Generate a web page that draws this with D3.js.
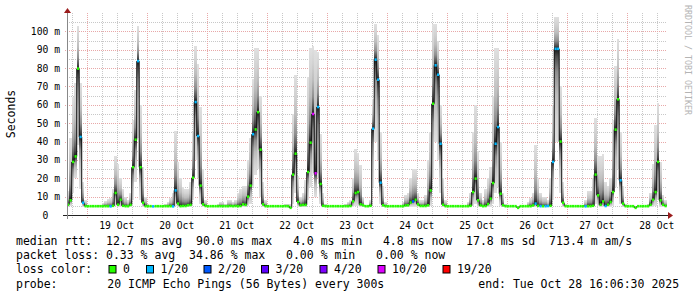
<!DOCTYPE html>
<html>
<head>
<meta charset="utf-8">
<script src="https://cdnjs.cloudflare.com/ajax/libs/d3/7.8.5/d3.min.js"></script>
<style>
    html, body { margin: 0; padding: 0; background: #ffffff; }
    svg { display: block; }
    text { font-family: 'DejaVu Sans Mono', monospace; white-space: pre; }
</style>
</head>
<body>
<svg id="chart" width="697" height="297"></svg>
<script>
/**
 * Hourly smokeping samples, 18 Oct 16:00 .. 28 Oct 16:00 (UTC), 12 per row.
 * Values in milliseconds.
 */
const medianRtt = [
    5.6, 8.0, 28.9, 31.9, 79.7, 42.5, 6.7, 4.8, 4.8, 4.8, 4.8, 4.8,
    4.8, 4.8, 4.8, 4.8, 4.8, 4.7, 5.0, 12.0, 5.6, 8.3, 5.0, 4.8,
    4.8, 5.5, 26.0, 41.0, 83.8, 26.0, 6.7, 4.8, 4.8, 4.8, 4.7, 4.8,
    4.8, 4.8, 4.8, 4.8, 4.8, 4.8, 4.7, 13.4, 6.2, 4.8, 4.9, 4.9,
    5.3, 5.5, 20.3, 61.5, 43.0, 16.0, 5.8, 4.9, 4.8, 4.8, 4.8, 4.8,
    4.8, 4.8, 4.8, 4.8, 4.8, 4.9, 4.8, 4.9, 4.8, 4.9, 5.8, 5.5,
    10.0, 16.0, 44.0, 46.6, 56.0, 35.6, 5.8, 4.8, 4.8, 4.8, 4.8, 4.8,
    4.8, 4.8, 4.8, 4.8, 4.8, 3.9, 22.0, 33.4, 7.1, 5.3, 5.5, 5.5,
    23.4, 39.4, 55.0, 22.7, 58.8, 16.9, 5.0, 4.8, 4.8, 4.8, 4.8, 4.8,
    4.8, 4.8, 4.8, 4.8, 4.8, 4.9, 7.4, 12.0, 12.5, 5.8, 5.3, 4.8,
    4.8, 5.0, 47.0, 84.6, 73.7, 17.6, 5.3, 4.8, 4.8, 4.8, 4.8, 4.8,
    4.8, 4.8, 4.8, 5.2, 5.3, 6.8, 7.4, 8.3, 5.8, 4.9, 4.9, 4.9,
    5.3, 13.4, 60.6, 81.5, 76.4, 38.8, 5.6, 4.8, 4.8, 4.8, 4.8, 4.8,
    4.8, 4.8, 4.8, 4.8, 4.8, 5.0, 12.5, 19.8, 8.0, 5.2, 4.8, 4.9,
    6.0, 8.9, 17.4, 38.8, 47.9, 11.6, 5.3, 4.8, 4.8, 4.8, 4.8, 4.8,
    3.9, 4.8, 4.8, 4.8, 4.8, 4.8, 5.2, 6.2, 5.0, 4.8, 4.8, 4.8,
    4.9, 5.0, 28.9, 90.5, 90.5, 40.0, 6.7, 4.8, 4.8, 4.8, 4.8, 4.8,
    4.8, 4.8, 4.8, 4.7, 4.8, 4.8, 5.0, 22.0, 10.7, 5.6, 7.4, 4.9,
    5.6, 7.1, 12.5, 46.5, 63.0, 18.9, 6.2, 4.8, 4.8, 4.8, 4.8, 3.9,
    4.8, 4.8, 4.8, 4.8, 4.8, 5.6, 8.3, 12.5, 28.9, 8.0, 5.6, 4.9
];

// slowest ping of each hour (top of the smoke)
const smokeMax = [
    13, 42, 64, 72, 103, 72, 18, 8, 5.5, 5, 5, 5,
    5, 5.5, 6.5, 7.5, 8.5, 9, 14, 32, 28, 20, 14, 10,
    8, 12, 52, 68, 103, 60, 26, 10, 6, 5, 5, 5,
    5, 5, 5.5, 6, 7, 9, 12, 46, 29, 20, 15, 14,
    14, 18, 45, 92, 82, 59, 25, 8, 5, 5, 5, 5,
    6, 7, 7, 6, 8, 8, 7, 8, 12, 14, 16, 16,
    30, 42, 74, 91, 91, 65, 18, 8, 5, 5, 5, 5,
    5, 5, 5.5, 6, 6, 6, 55, 76, 21, 10, 12, 19,
    75, 91, 92, 90, 89, 44, 12, 6, 5, 5, 5, 5,
    5, 5, 5.5, 6, 7, 8, 20, 36, 34, 27, 10, 5,
    5, 8, 63, 104, 98, 45, 16, 7, 5, 5, 5, 5,
    5, 5, 7, 11, 12, 20, 25, 25, 12, 8, 8, 11,
    30, 45, 104, 104, 95, 60, 20, 8, 5, 5, 5, 5,
    5, 5, 5, 5, 7, 12, 45, 60, 35, 12, 8, 14,
    20, 26, 65, 91, 91, 40, 12, 6, 5, 5, 5, 5,
    5, 5, 5, 5, 7, 9, 12, 38, 20, 12, 10, 10,
    8, 20, 60, 108, 108, 70, 18, 6, 5, 5, 5, 5,
    5, 5, 5, 8, 13, 13, 20, 53, 32, 32, 33, 18,
    16, 20, 52, 81, 96, 45, 16, 6, 5, 5, 5, 5,
    5, 5, 5, 5, 6, 12, 28, 49, 61, 29, 11, 8
];

// fastest ping of each hour (bottom of the smoke)
const smokeMin = [
    4.5, 5, 12, 20, 38, 14, 4.6, 4.5, 4.5, 4.5, 4.5, 4.5,
    4.5, 4.5, 4.5, 4.5, 4.5, 4.5, 4.5, 5, 4.5, 4.6, 4.5, 4.5,
    4.5, 4.6, 8, 18, 42, 8, 4.6, 4.5, 4.5, 4.5, 4.5, 4.5,
    4.5, 4.5, 4.5, 4.5, 4.5, 4.5, 4.5, 5, 4.6, 4.5, 4.5, 4.5,
    4.5, 4.6, 8, 30, 20, 6, 4.6, 4.5, 4.5, 4.5, 4.5, 4.5,
    4.5, 4.5, 4.5, 4.5, 4.5, 4.5, 4.5, 4.5, 4.5, 4.5, 4.6, 4.6,
    5, 6, 15, 22, 25, 10, 4.6, 4.5, 4.5, 4.5, 4.5, 4.5,
    4.5, 4.5, 4.5, 4.5, 4.5, 3.8, 6, 12, 4.6, 4.5, 4.5, 4.5,
    8, 15, 22, 10, 20, 6, 4.5, 4.5, 4.5, 4.5, 4.5, 4.5,
    4.5, 4.5, 4.5, 4.5, 4.5, 4.5, 4.6, 5, 5, 4.6, 4.5, 4.5,
    4.5, 4.5, 15, 40, 30, 6, 4.5, 4.5, 4.5, 4.5, 4.5, 4.5,
    4.5, 4.5, 4.5, 4.5, 4.5, 4.6, 4.6, 4.6, 4.5, 4.5, 4.5, 4.5,
    4.5, 5, 20, 40, 30, 12, 4.5, 4.5, 4.5, 4.5, 4.5, 4.5,
    4.5, 4.5, 4.5, 4.5, 4.5, 4.5, 5, 6, 4.6, 4.5, 4.5, 4.5,
    4.5, 4.6, 6, 12, 15, 5, 4.5, 4.5, 4.5, 4.5, 4.5, 4.5,
    3.8, 4.5, 4.5, 4.5, 4.5, 4.5, 4.5, 4.5, 4.5, 4.5, 4.5, 4.5,
    4.5, 4.5, 8, 40, 40, 12, 4.6, 4.5, 4.5, 4.5, 4.5, 4.5,
    4.5, 4.5, 4.5, 4.5, 4.5, 4.5, 4.5, 6, 5, 4.5, 4.6, 4.5,
    4.5, 4.6, 5, 15, 25, 6, 4.5, 4.5, 4.5, 4.5, 4.5, 3.8,
    4.5, 4.5, 4.5, 4.5, 4.5, 4.5, 4.6, 5, 8, 4.6, 4.5, 4.5
];

// lost pings out of 20 for each hour
const lossCount = [
    0, 0, 0, 0, 0, 1, 1, 0, 0, 0, 0, 0,
    0, 0, 0, 0, 0, 1, 0, 0, 0, 0, 0, 0,
    0, 0, 0, 0, 1, 0, 0, 0, 0, 0, 1, 0,
    0, 0, 0, 0, 0, 0, 1, 1, 0, 0, 0, 0,
    0, 0, 0, 1, 1, 0, 0, 0, 0, 0, 0, 0,
    0, 0, 0, 0, 0, 0, 0, 0, 0, 0, 0, 0,
    0, 0, 1, 0, 0, 0, 0, 0, 0, 0, 0, 0,
    0, 0, 0, 0, 0, 0, 0, 0, 0, 0, 0, 0,
    0, 0, 10, 10, 1, 0, 0, 0, 0, 0, 0, 0,
    0, 0, 0, 0, 0, 0, 0, 0, 0, 0, 0, 0,
    0, 0, 1, 1, 1, 1, 0, 0, 0, 0, 0, 0,
    0, 0, 0, 0, 0, 0, 2, 0, 0, 0, 0, 0,
    0, 0, 0, 1, 1, 1, 0, 0, 0, 0, 0, 0,
    0, 0, 0, 0, 0, 0, 0, 0, 0, 0, 0, 0,
    0, 0, 0, 1, 1, 0, 0, 0, 0, 0, 0, 0,
    0, 0, 0, 0, 0, 0, 0, 1, 0, 1, 0, 1,
    1, 0, 1, 1, 1, 0, 0, 0, 0, 0, 0, 0,
    0, 0, 0, 1, 0, 0, 0, 0, 0, 0, 0, 1,
    0, 0, 0, 0, 0, 1, 0, 0, 0, 0, 0, 0,
    0, 0, 0, 0, 0, 0, 0, 0, 0, 0, 0, 0
];

/** Loss colour legend */
const lossSteps = [0, 1, 2, 3, 4, 10, 19];
const lossLabels = ['0', '1/20', '2/20', '3/20', '4/20', '10/20', '19/20'];
const lossColors = ['#26ff00', '#00b8ff', '#0059ff', '#5e00ff', '#7e00ff', '#dd00ff', '#ff0000'];

/** Y axis ticks (ms) */
const yTicks = [0, 10, 20, 30, 40, 50, 60, 70, 80, 90, 100];

/** Legend lines */
const rttLine = 'median rtt:  12.7 ms avg  90.0 ms max   4.0 ms min   4.8 ms now  17.8 ms sd  713.4 m am/s';
const lossLine = 'packet loss: 0.33 % avg  34.86 % max   0.00 % min   0.00 % now';
const probeLabel = 'probe:';
const probeText = '20 ICMP Echo Pings (56 Bytes) every 300s';
const endText = 'end: Tue Oct 28 16:06:30 2025';

const hour = 3600 * 1000;
const endTime = new Date(Date.UTC(2025, 9, 28, 16, 6, 30));
const startTime = new Date(endTime.getTime() - 240 * hour);
const firstBin = new Date(Date.UTC(2025, 9, 18, 16, 0, 0));

const plot = { left: 67, right: 667, top: 13, bottom: 215 };

function lossColor(n) {
    let c = lossColors[0];
    lossSteps.forEach((s, i) => { if (n >= s) c = lossColors[i]; });
    return c;
}

function drawChart(svg) {
    const x = d3.scaleUtc().domain([startTime, endTime]).range([plot.left, plot.right]);
    const y = d3.scaleLinear().domain([0, 110]).range([plot.bottom, plot.top]);

    const defs = svg.append('defs');
    defs.append('clipPath').attr('id', 'plot-clip')
        .append('rect')
        .attr('x', plot.left).attr('y', plot.top)
        .attr('width', plot.right - plot.left).attr('height', plot.bottom - plot.top);

    // smoke shading: dark next to the median, light at the extremes
    const stops = [[0, '#181818'], [0.08, '#4a4a4a'], [0.25, '#8e8e8e'], [0.5, '#bdbdbd'], [0.75, '#d2d2d2'], [1, '#e0e0e0']];
    [['smoke-up', 1, 0], ['smoke-down', 0, 1]].forEach(([id, y1, y2]) => {
        const g = defs.append('linearGradient').attr('id', id)
            .attr('x1', 0).attr('x2', 0).attr('y1', y1).attr('y2', y2);
        stops.forEach(([o, c]) => g.append('stop').attr('offset', o).attr('stop-color', c));
    });

    // grid
    const grid = svg.append('g');
    const minorY = d3.range(5, 110, 10);
    const majorY = d3.range(10, 110, 10);
    const hours6 = d3.utcHour.every(6).range(startTime, endTime);
    const days = d3.utcDay.range(startTime, endTime);

    grid.selectAll('.gy').data(minorY).join('line')
        .attr('x1', plot.left).attr('x2', plot.right)
        .attr('y1', (d) => Math.round(y(d)) + 0.5).attr('y2', (d) => Math.round(y(d)) + 0.5)
        .attr('stroke', '#c8c8c8').attr('stroke-dasharray', '1,1');
    grid.selectAll('.gx').data(hours6.filter((d) => d.getUTCHours() !== 0)).join('line')
        .attr('x1', (d) => Math.round(x(d)) + 0.5).attr('x2', (d) => Math.round(x(d)) + 0.5)
        .attr('y1', plot.top).attr('y2', plot.bottom + 3)
        .attr('stroke', '#c8c8c8').attr('stroke-dasharray', '1,1');
    grid.selectAll('.my').data(majorY).join('line')
        .attr('x1', plot.left - 2).attr('x2', plot.right)
        .attr('y1', (d) => Math.round(y(d)) + 0.5).attr('y2', (d) => Math.round(y(d)) + 0.5)
        .attr('stroke', '#e8a8a8').attr('stroke-dasharray', '1,1');
    grid.selectAll('.mx').data(days).join('line')
        .attr('x1', (d) => Math.round(x(d)) + 0.5).attr('x2', (d) => Math.round(x(d)) + 0.5)
        .attr('y1', plot.top).attr('y2', plot.bottom + 3)
        .attr('stroke', '#e8a8a8').attr('stroke-dasharray', '1,1');

    const bins = medianRtt.map((m, i) => {
        const t0 = new Date(firstBin.getTime() + i * hour);
        const t1 = new Date(t0.getTime() + hour);
        return { x0: x(t0), x1: x(t1), med: m, lo: smokeMin[i], hi: smokeMax[i], loss: lossCount[i] };
    });

    const data = svg.append('g').attr('clip-path', 'url(#plot-clip)');

    // smoke above and below the median
    data.selectAll('.up').data(bins.filter((b) => b.hi > b.med)).join('rect')
        .attr('x', (b) => b.x0).attr('width', (b) => b.x1 - b.x0)
        .attr('y', (b) => y(b.hi)).attr('height', (b) => y(b.med) - y(b.hi))
        .attr('fill', 'url(#smoke-up)').attr('shape-rendering', 'crispEdges');
    data.selectAll('.down').data(bins.filter((b) => b.lo < b.med)).join('rect')
        .attr('x', (b) => b.x0).attr('width', (b) => b.x1 - b.x0)
        .attr('y', (b) => y(b.med)).attr('height', (b) => y(b.lo) - y(b.med))
        .attr('fill', 'url(#smoke-down)').attr('shape-rendering', 'crispEdges');

    // median steps
    const steps = bins.slice(1).map((b, i) => `M${b.x0},${y(bins[i].med)}V${y(b.med)}`).join('');
    data.append('path').attr('d', steps)
        .attr('stroke', '#111111').attr('stroke-width', 1).attr('fill', 'none');

    // median coloured by loss
    data.selectAll('.med').data(bins).join('rect')
        .attr('x', (b) => b.x0 + 0.3).attr('width', (b) => b.x1 - b.x0 - 0.3)
        .attr('y', (b) => y(b.med) - 1.3).attr('height', 2.6)
        .attr('fill', (b) => lossColor(b.loss));

    // axes
    svg.append('line').attr('x1', plot.left - 4).attr('x2', plot.right + 3)
        .attr('y1', plot.bottom + 0.5).attr('y2', plot.bottom + 0.5).attr('stroke', '#222');
    svg.append('line').attr('x1', plot.left + 0.5).attr('x2', plot.left + 0.5)
        .attr('y1', plot.bottom + 4).attr('y2', plot.top - 4).attr('stroke', '#888');
    svg.append('path').attr('d', `M${plot.right + 1},${plot.bottom - 3}L${plot.right + 6},${plot.bottom + 0.5}L${plot.right + 1},${plot.bottom + 4}Z`)
        .attr('fill', '#9b1c1c');
    svg.append('path').attr('d', `M${plot.left - 3},${plot.top}L${plot.left + 0.5},${plot.top - 5}L${plot.left + 4},${plot.top}Z`)
        .attr('fill', '#9b1c1c');

    // y tick labels
    svg.selectAll('.ylab').data(yTicks).join('text')
        .attr('x', 60).attr('y', (d) => y(d) + 3.5)
        .attr('text-anchor', 'end').attr('font-size', '9.7px').attr('fill', '#000')
        .text((d) => (d === 0 ? '0  ' : `${d} m`));

    // x tick labels at noon
    svg.selectAll('.xlab').data(days).join('text')
        .attr('x', (d) => x(d3.utcHour.offset(d, 12))).attr('y', 228.5)
        .attr('text-anchor', 'middle').attr('font-size', '9.7px').attr('fill', '#000')
        .text((d) => d3.utcFormat('%d %b')(d));

    svg.append('text').attr('transform', 'translate(14.5,114) rotate(-90)')
        .attr('text-anchor', 'middle').attr('font-size', '11.5px').text('Seconds');

    svg.append('text').attr('transform', 'translate(685,5) rotate(90)')
        .attr('font-size', '8.3px').attr('fill', '#b4b4b4').text('RRDTOOL / TOBI OETIKER');

    // legend
    const legend = svg.append('g').attr('font-size', '11.5px').attr('fill', '#000');
    legend.append('text').attr('x', 16).attr('y', 245).text(rttLine);
    legend.append('text').attr('x', 16).attr('y', 259.2).text(lossLine);
    legend.append('text').attr('x', 16).attr('y', 273.4).text('loss color:');
    const boxX = [108.5, 146, 203.5, 261, 319.5, 377.5, 442.5];
    const item = legend.selectAll('.li').data(lossLabels).join('g')
        .attr('transform', (d, i) => `translate(${boxX[i]},0)`);
    item.append('rect').attr('x', 0.5).attr('y', 265.5).attr('width', 7).attr('height', 7.5)
        .attr('fill', (d, i) => lossColors[i]).attr('stroke', '#000');
    item.append('text').attr('x', 14.5).attr('y', 273.4).text((d) => d);
    legend.append('text').attr('x', 16).attr('y', 287.6).text(probeLabel);
    legend.append('text').attr('x', 107.3).attr('y', 287.6).text(probeText);
    legend.append('text').attr('x', 478.3).attr('y', 287.6).text(endText);
}

window.addEventListener('DOMContentLoaded', () => {
    drawChart(d3.select('#chart'));
});
</script>
</body>
</html>
